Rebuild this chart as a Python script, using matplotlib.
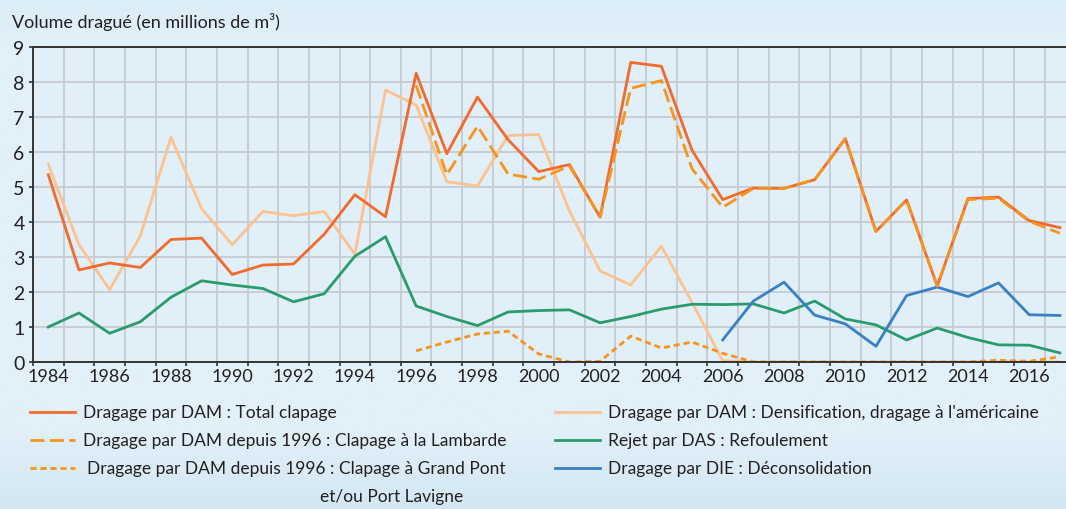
import matplotlib.pyplot as plt
import numpy as np
from matplotlib.colors import LinearSegmentedColormap
from matplotlib.lines import Line2D
from matplotlib.ticker import MultipleLocator

plt.rcParams['font.family'] = ['Lato', 'DejaVu Sans']

years = np.arange(1984, 2018)

# Dragage par DAM : Total clapage
total_clapage = [5.35, 2.63, 2.83, 2.70, 3.50, 3.54, 2.50, 2.77, 2.80, 3.65,
                 4.78, 4.15, 8.25, 5.95, 7.57, 6.35, 5.44, 5.64, 4.14, 8.56,
                 8.45, 6.05, 4.64, 4.97, 4.96, 5.21, 6.38, 3.73, 4.63, 2.17,
                 4.67, 4.71, 4.04, 3.84]

# depuis 1996 : Clapage à la Lambarde
lambarde_years = np.arange(1996, 2018)
lambarde = [7.9, 5.35, 6.74, 5.37, 5.22, 5.60, 4.14, 7.82, 8.04, 5.52,
            4.42, 4.96, 4.96, 5.21, 6.38, 3.73, 4.63, 2.17, 4.64, 4.68,
            4.02, 3.68]

# depuis 1996 : Clapage à Grand Pont et/ou Port Lavigne
grand_pont = [0.32, 0.57, 0.80, 0.88, 0.23, 0.0, 0.02, 0.74, 0.40, 0.57,
              0.25, 0.0, 0.0, 0.0, 0.0, 0.0, 0.0, 0.0, 0.0, 0.05,
              0.02, 0.15]

# Dragage par DAM : Densification, dragage à l'américaine
densification = [5.65, 3.35, 2.07, 3.60, 6.42, 4.38, 3.35, 4.30, 4.18, 4.30,
                 3.08, 7.77, 7.34, 5.15, 5.03, 6.47, 6.50, 4.32, 2.60, 2.20,
                 3.31, 1.70, 0.04, 0.0, 0.0, 0.0, 0.0, 0.0, 0.0, 0.0,
                 0.0, 0.0, 0.0, 0.0]

# Rejet par DAS : Refoulement
refoulement = [1.00, 1.40, 0.82, 1.15, 1.85, 2.32, 2.20, 2.10, 1.72, 1.95,
               3.02, 3.58, 1.60, 1.30, 1.04, 1.43, 1.47, 1.49, 1.12, 1.30,
               1.51, 1.65, 1.64, 1.66, 1.40, 1.74, 1.23, 1.06, 0.63, 0.97,
               0.70, 0.49, 0.48, 0.26]

# Dragage par DIE : Déconsolidation
die_years = np.arange(2006, 2018)
deconsolidation = [0.63, 1.74, 2.28, 1.34, 1.09, 0.45, 1.90, 2.14, 1.87, 2.26,
                   1.35, 1.33]

bg = '#e0eff8'
c_total = '#f26a2c'
c_dash = '#f7941e'
c_dens = '#fcc28f'
c_green = '#2a9c6c'
c_blue = '#3a80c4'
lw = 2.0
text_c = '#231f20'

fig = plt.figure(figsize=(10.66, 5.10), dpi=100, facecolor=bg)

# faint vertical gradient behind everything
bgax = fig.add_axes([0, 0, 1, 1], zorder=-10)
grad = LinearSegmentedColormap.from_list(
    'bg', [(0, '#dbedf7'), (0.08, '#e1f0f9'), (0.85, '#e1f0f9'), (1, '#d3e7f3')])
bgax.imshow(np.linspace(0, 1, 256).reshape(-1, 1), aspect='auto', cmap=grad,
            extent=[0, 1, 1, 0])
bgax.axis('off')

ax = fig.add_axes([33 / 1066, 1 - 363 / 510, 1 - 33 / 1066, 315 / 510])
ax.set_facecolor(bg)

ax.plot(years, densification, color=c_dens, lw=lw)
ax.plot(years, refoulement, color=c_green, lw=lw)
ax.plot(die_years, deconsolidation, color=c_blue, lw=lw)
ax.plot(years, total_clapage, color=c_total, lw=lw)
ax.plot(lambarde_years, lambarde, color=c_dash, lw=lw, dashes=(5, 2))
ax.plot(lambarde_years, grand_pont, color=c_dash, lw=lw, dashes=(2.2, 1.4))

ax.set_xlim(1983.5, 2017.2)
ax.set_ylim(0, 9)
ax.xaxis.set_major_locator(MultipleLocator(2))
ax.xaxis.set_minor_locator(MultipleLocator(1, offset=0.5))
ax.yaxis.set_major_locator(MultipleLocator(1))
ax.grid(which='minor', axis='x', color='#c6cbd0', lw=1.3)
ax.grid(which='major', axis='y', color='#c6cbd0', lw=1.3)
ax.set_axisbelow(True)
ax.tick_params(axis='x', which='major', length=0, labelsize=13, pad=4,
               labelcolor=text_c)
ax.tick_params(axis='x', which='minor', length=3, width=1.2, color='#333333')
ax.tick_params(axis='y', length=3, width=1.2, labelsize=14, pad=3,
               labelcolor=text_c, color='#333333')
for side in ['left', 'bottom', 'top']:
    ax.spines[side].set_color('#333333')
    ax.spines[side].set_linewidth(1.4)
ax.spines['right'].set_visible(False)

fig.text(12 / 1066, 1 - 22 / 510, 'Volume dragué (en millions de m³)',
         fontsize=13, color=text_c, va='center', ha='left')

# legend, drawn by hand to follow the two-column layout
entries = [
    (30, 83, 413, c_total, None, 'Dragage par DAM : Total clapage'),
    (30, 83, 441, c_dash, (5, 2), 'Dragage par DAM depuis 1996 : Clapage à la Lambarde'),
    (30, 87, 469, c_dash, (2.2, 1.4), 'Dragage par DAM depuis 1996 : Clapage à Grand Pont'),
    (555, 608, 413, c_dens, None, "Dragage par DAM : Densification, dragage à l'américaine"),
    (555, 608, 441, c_green, None, 'Rejet par DAS : Refoulement'),
    (555, 608, 469, c_blue, None, 'Dragage par DIE : Déconsolidation'),
]
for x0, xt, y, color, dashes, label in entries:
    yf = 1 - y / 510
    line = Line2D([x0 / 1066, (x0 + 45) / 1066], [yf, yf], color=color, lw=lw,
                  transform=fig.transFigure)
    if dashes:
        line.set_dashes(dashes)
    fig.add_artist(line)
    fig.text(xt / 1066, yf, label, fontsize=12.5, color=text_c,
             va='center', ha='left')
fig.text(320 / 1066, 1 - 497 / 510, 'et/ou Port Lavigne', fontsize=12.5,
         color=text_c, va='center', ha='left')

fig.savefig('out.png', dpi=100, facecolor=bg)
